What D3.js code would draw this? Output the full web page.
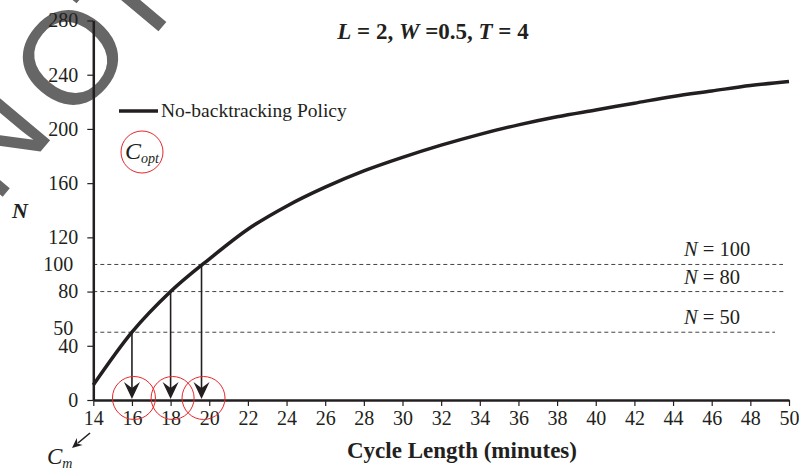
<!DOCTYPE html>
<html>
<head>
<meta charset="utf-8">
<script src="https://cdn.jsdelivr.net/npm/d3@7"></script>
<style>
  body { margin: 0; background: #fff; }
  svg { display: block; font-family: "Liberation Serif", "Times New Roman", serif; }
</style>
</head>
<body>
<svg width="799" height="470"></svg>
<script>
// cycle length (minutes) and fleet size
const cycleLength = [14, 16, 18, 20, 22, 24, 26, 28, 30, 32, 34, 36, 38, 40, 42, 44, 46, 48, 50];
const fleetSize = [11, 50, 80, 104, 126, 143, 157, 169, 179, 188, 196, 203, 209, 214, 219, 224, 228, 232, 235];
const xTicks = d3.range(14, 51, 2);
const yTicks = [0, 40, 80, 120, 160, 200, 240, 280];
const yExtraLabels = [50, 100];
const levels = [100, 80, 50];          // dashed N levels
const optCycle = [16, 18, 19.6];       // C_opt for each level (matching order 50, 80, 100)
const optLevel = [50, 80, 100];
const watermark = ["N", "O", "T"];

function draw() {
  const svg = d3.select("svg");
  svg.selectAll("*").remove();

  const x = d3.scaleLinear().domain([14, 50]).range([93.3, 789]);
  const y = d3.scaleLinear().domain([0, 280]).range([400, 20.5]);
  const ink = "#231f20";

  // grey watermark letters behind the chart (centres of each glyph)
  const wmPos = [[-10, 138], [69, 56], [126, -4]];
  svg.append("g").selectAll("text")
    .data(watermark)
    .enter().append("text")
    .attr("transform", (d, i) => `translate(${wmPos[i][0]},${wmPos[i][1]}) rotate(-50)`)
    .attr("text-anchor", "middle")
    .attr("dy", "0.36em")
    .attr("font-family", "Liberation Sans, Arial, sans-serif")
    .attr("font-size", 132)
    .attr("fill", "#666")
    .text(d => d);

  // dashed reference lines
  const ends = {100: 783, 80: 785, 50: 775};
  svg.append("g").selectAll("line")
    .data(levels)
    .enter().append("line")
    .attr("x1", x(14))
    .attr("x2", d => ends[d])
    .attr("y1", d => y(d))
    .attr("y2", d => y(d))
    .attr("stroke", "#444")
    .attr("stroke-width", 1)
    .attr("stroke-dasharray", "4,3");

  // level labels
  svg.append("g").selectAll("text")
    .data(levels)
    .enter().append("text")
    .attr("x", 684)
    .attr("y", d => y(d) - 8)
    .attr("font-size", 20.5)
    .attr("fill", ink)
    .html(d => `<tspan font-style="italic">N</tspan> = ${d}`);

  // x axis
  const xAxis = svg.append("g")
    .attr("transform", `translate(0,${y(0)})`)
    .call(d3.axisBottom(x).tickValues(xTicks).tickSize(6).tickPadding(5).tickSizeOuter(0));
  xAxis.select(".domain").attr("stroke", ink).attr("stroke-width", 2.5);
  xAxis.selectAll(".tick line").attr("stroke", ink).attr("stroke-width", 1.2);
  xAxis.selectAll(".tick text")
    .attr("font-family", "Liberation Serif, serif")
    .attr("font-size", 20)
    .attr("fill", ink);

  // y axis
  const yAxis = svg.append("g")
    .attr("transform", `translate(${x(14)},0)`)
    .call(d3.axisLeft(y).tickValues(yTicks).tickSize(6).tickPadding(9).tickSizeOuter(0));
  yAxis.select(".domain").attr("stroke", ink).attr("stroke-width", 2.5);
  yAxis.selectAll(".tick line").attr("stroke", ink).attr("stroke-width", 1.2);
  yAxis.selectAll(".tick text")
    .attr("font-family", "Liberation Serif, serif")
    .attr("font-size", 20)
    .attr("fill", ink);

  // extra labels (50, 100) with no tick mark
  svg.append("g").selectAll("text")
    .data(yExtraLabels)
    .enter().append("text")
    .attr("x", x(14) - 20)
    .attr("y", d => y(d))
    .attr("dy", d => d === 50 ? "0.15em" : "0.32em")
    .attr("text-anchor", "end")
    .attr("font-size", 20)
    .attr("fill", ink)
    .text(d => d);

  // curve
  const line = d3.line()
    .x((d, i) => x(cycleLength[i]))
    .y(d => y(d))
    .curve(d3.curveMonotoneX);
  svg.append("path")
    .datum(fleetSize)
    .attr("d", line)
    .attr("fill", "none")
    .attr("stroke", ink)
    .attr("stroke-width", 3.5);

  // drop arrows from the curve to the axis
  const arrows = svg.append("g");
  arrows.selectAll("line")
    .data(optCycle)
    .enter().append("line")
    .attr("x1", d => x(d))
    .attr("x2", d => x(d))
    .attr("y1", (d, i) => y(optLevel[i]))
    .attr("y2", y(0) - 10)
    .attr("stroke", ink)
    .attr("stroke-width", 1.6);
  arrows.selectAll("path")
    .data(optCycle)
    .enter().append("path")
    .attr("transform", d => `translate(${x(d)},${y(0) - 1})`)
    .attr("d", "M0,0 L-8,-17 L0,-11 L8,-17 Z")
    .attr("fill", ink);

  // red circles round the optimal cycle lengths
  svg.append("g").selectAll("circle")
    .data(optCycle)
    .enter().append("circle")
    .attr("cx", d => x(d) + 2)
    .attr("cy", y(0) - 2)
    .attr("r", 21.5)
    .attr("fill", "none")
    .attr("stroke", "#e8262a")
    .attr("stroke-width", 1);

  // C_opt badge
  svg.append("circle")
    .attr("cx", 142).attr("cy", 152).attr("r", 21)
    .attr("fill", "none").attr("stroke", "#e8262a").attr("stroke-width", 1);
  svg.append("text")
    .attr("x", 125).attr("y", 159)
    .attr("font-size", 24)
    .attr("font-style", "italic")
    .attr("fill", ink)
    .html('C<tspan font-size="14" dy="4">opt</tspan>');

  // legend
  svg.append("line")
    .attr("x1", 119).attr("x2", 158).attr("y1", 111).attr("y2", 111)
    .attr("stroke", ink).attr("stroke-width", 3.5);
  svg.append("text")
    .attr("x", 161).attr("y", 117)
    .attr("font-size", 19.5)
    .attr("fill", ink)
    .text("No-backtracking Policy");

  // title
  svg.append("text")
    .attr("x", 433).attr("y", 39)
    .attr("text-anchor", "middle")
    .attr("font-size", 23)
    .attr("font-weight", "bold")
    .attr("fill", ink)
    .html('<tspan font-style="italic">L</tspan> = 2, <tspan font-style="italic">W</tspan> =0.5, <tspan font-style="italic">T</tspan> = 4');

  // axis titles
  svg.append("text")
    .attr("x", 20).attr("y", 218)
    .attr("text-anchor", "middle")
    .attr("font-size", 22)
    .attr("font-weight", "bold")
    .attr("font-style", "italic")
    .attr("fill", ink)
    .text("N");
  svg.append("text")
    .attr("x", 462).attr("y", 458)
    .attr("text-anchor", "middle")
    .attr("font-size", 23)
    .attr("font-weight", "bold")
    .attr("fill", ink)
    .text("Cycle Length (minutes)");

  // C_m pointer
  svg.append("line")
    .attr("x1", 90).attr("y1", 433).attr("x2", 78).attr("y2", 443)
    .attr("stroke", ink).attr("stroke-width", 1.6);
  svg.append("path")
    .attr("d", "M0,0 L-4.5,-10 L0,-7 L4.5,-10 Z")
    .attr("fill", ink)
    .attr("transform", "translate(72,448) rotate(50)");
  svg.append("text")
    .attr("x", 47).attr("y", 464)
    .attr("font-size", 23)
    .attr("font-style", "italic")
    .attr("fill", ink)
    .html('C<tspan font-size="14" dy="4">m</tspan>');
}

document.addEventListener("DOMContentLoaded", draw);
</script>
</body>
</html>
